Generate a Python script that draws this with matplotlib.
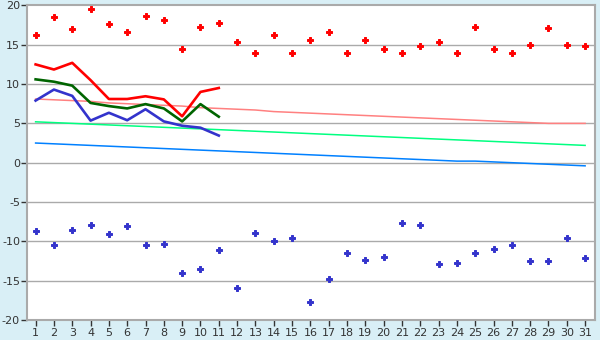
import numpy as np
import matplotlib
matplotlib.use('Agg')
import matplotlib.pyplot as plt

plt.rcParams['axes.unicode_minus'] = False

days = list(range(1, 32))

# daily maximum / minimum (points)
t_max = [16.2, 18.5, 16.95, 19.5, 17.7, 16.6, 18.7, 18.1, 14.5, 17.2, 17.8,
         15.4, 14.0, 16.2, 13.9, 15.55, 16.6, 13.9, 15.55, 14.5, 13.9, 14.9,
         15.4, 14.0, 17.2, 14.5, 13.9, 15.0, 17.1, 15.0, 14.8]
t_min = [-8.7, -10.5, -8.6, -7.95, -9.1, -8.1, -10.5, -10.4, -14.05, -13.55, -11.1,
         -15.95, -9.0, -10.0, -9.6, -17.75, -14.8, -11.5, -12.4, -12.0, -7.7, -7.95,
         -12.9, -12.8, -11.5, -11.0, -10.5, -12.5, -12.5, -9.6, -12.15]

# measured lines (first 11 days)
days_obs = list(range(1, 12))
obs_red = [12.5, 11.85, 12.7, 10.5, 8.1, 8.1, 8.45, 8.05, 5.9, 9.0, 9.5]
obs_green = [10.6, 10.3, 9.8, 7.6, 7.2, 6.9, 7.45, 6.9, 5.25, 7.45, 5.85]
obs_blue = [7.9, 9.3, 8.5, 5.35, 6.35, 5.4, 6.8, 5.25, 4.7, 4.45, 3.45]

# normals (thin lines)
norm_pink = [8.1, 8.0, 7.9, 7.8, 7.6, 7.5, 7.4, 7.3, 7.2, 7.0, 6.9, 6.8, 6.7, 6.5, 6.4,
             6.3, 6.2, 6.1, 6.0, 5.9, 5.8, 5.7, 5.6, 5.5, 5.4, 5.3, 5.2, 5.1, 5.0, 5.0, 5.0]
norm_green = [5.2, 5.1, 5.0, 4.9, 4.8, 4.7, 4.6, 4.5, 4.4, 4.3, 4.2, 4.1, 4.0, 3.9, 3.8,
              3.7, 3.6, 3.5, 3.4, 3.3, 3.2, 3.1, 3.0, 2.9, 2.8, 2.7, 2.6, 2.5, 2.4, 2.3, 2.2]
norm_blue = [2.5, 2.4, 2.3, 2.2, 2.1, 2.0, 1.9, 1.8, 1.7, 1.6, 1.5, 1.4, 1.3, 1.2, 1.1,
             1.0, 0.9, 0.8, 0.7, 0.6, 0.5, 0.4, 0.3, 0.2, 0.2, 0.1, 0.0, -0.1, -0.2, -0.3, -0.4]

bg = '#D9EFF6'
fig = plt.figure(figsize=(6, 3.4), dpi=100, facecolor=bg)
ax = fig.add_axes([0.045, 0.059, 0.947, 0.925])
ax.set_facecolor('white')

for y in range(-15, 20, 5):
    ax.axhline(y, color='#AAAAAA', lw=1.0, zorder=1)

ax.plot(days, norm_pink, color='#FF8080', lw=1.1, zorder=2)
ax.plot(days, norm_green, color='#00FF80', lw=1.1, zorder=2)
ax.plot(days, norm_blue, color='#0080FF', lw=1.1, zorder=2)

ax.plot(days_obs, obs_red, color='#FF0000', lw=1.9, zorder=3)
ax.plot(days_obs, obs_green, color='#006400', lw=1.9, zorder=3)
ax.plot(days_obs, obs_blue, color='#3333CC', lw=1.9, zorder=3)

ax.plot(days, t_max, ls='none', marker='P', ms=5.0, color='#FF0000', mew=0.7, zorder=4)
ax.plot(days, t_min, ls='none', marker='P', ms=5.0, color='#3333CC', mew=0.7, zorder=4)

ax.set_xlim(0.53, 31.55)
ax.set_ylim(-20, 20)
ax.set_xticks(days)
ax.set_yticks(range(-20, 21, 5))
for s in ax.spines.values():
    s.set_color('#AAAAAA')
    s.set_linewidth(1.5)
ax.tick_params(axis='both', colors='#333333', labelsize=8, length=4, width=1)
ax.tick_params(axis='x', pad=2)
ax.tick_params(axis='y', pad=1)

fig.savefig('out.png', dpi=100, facecolor=bg)
